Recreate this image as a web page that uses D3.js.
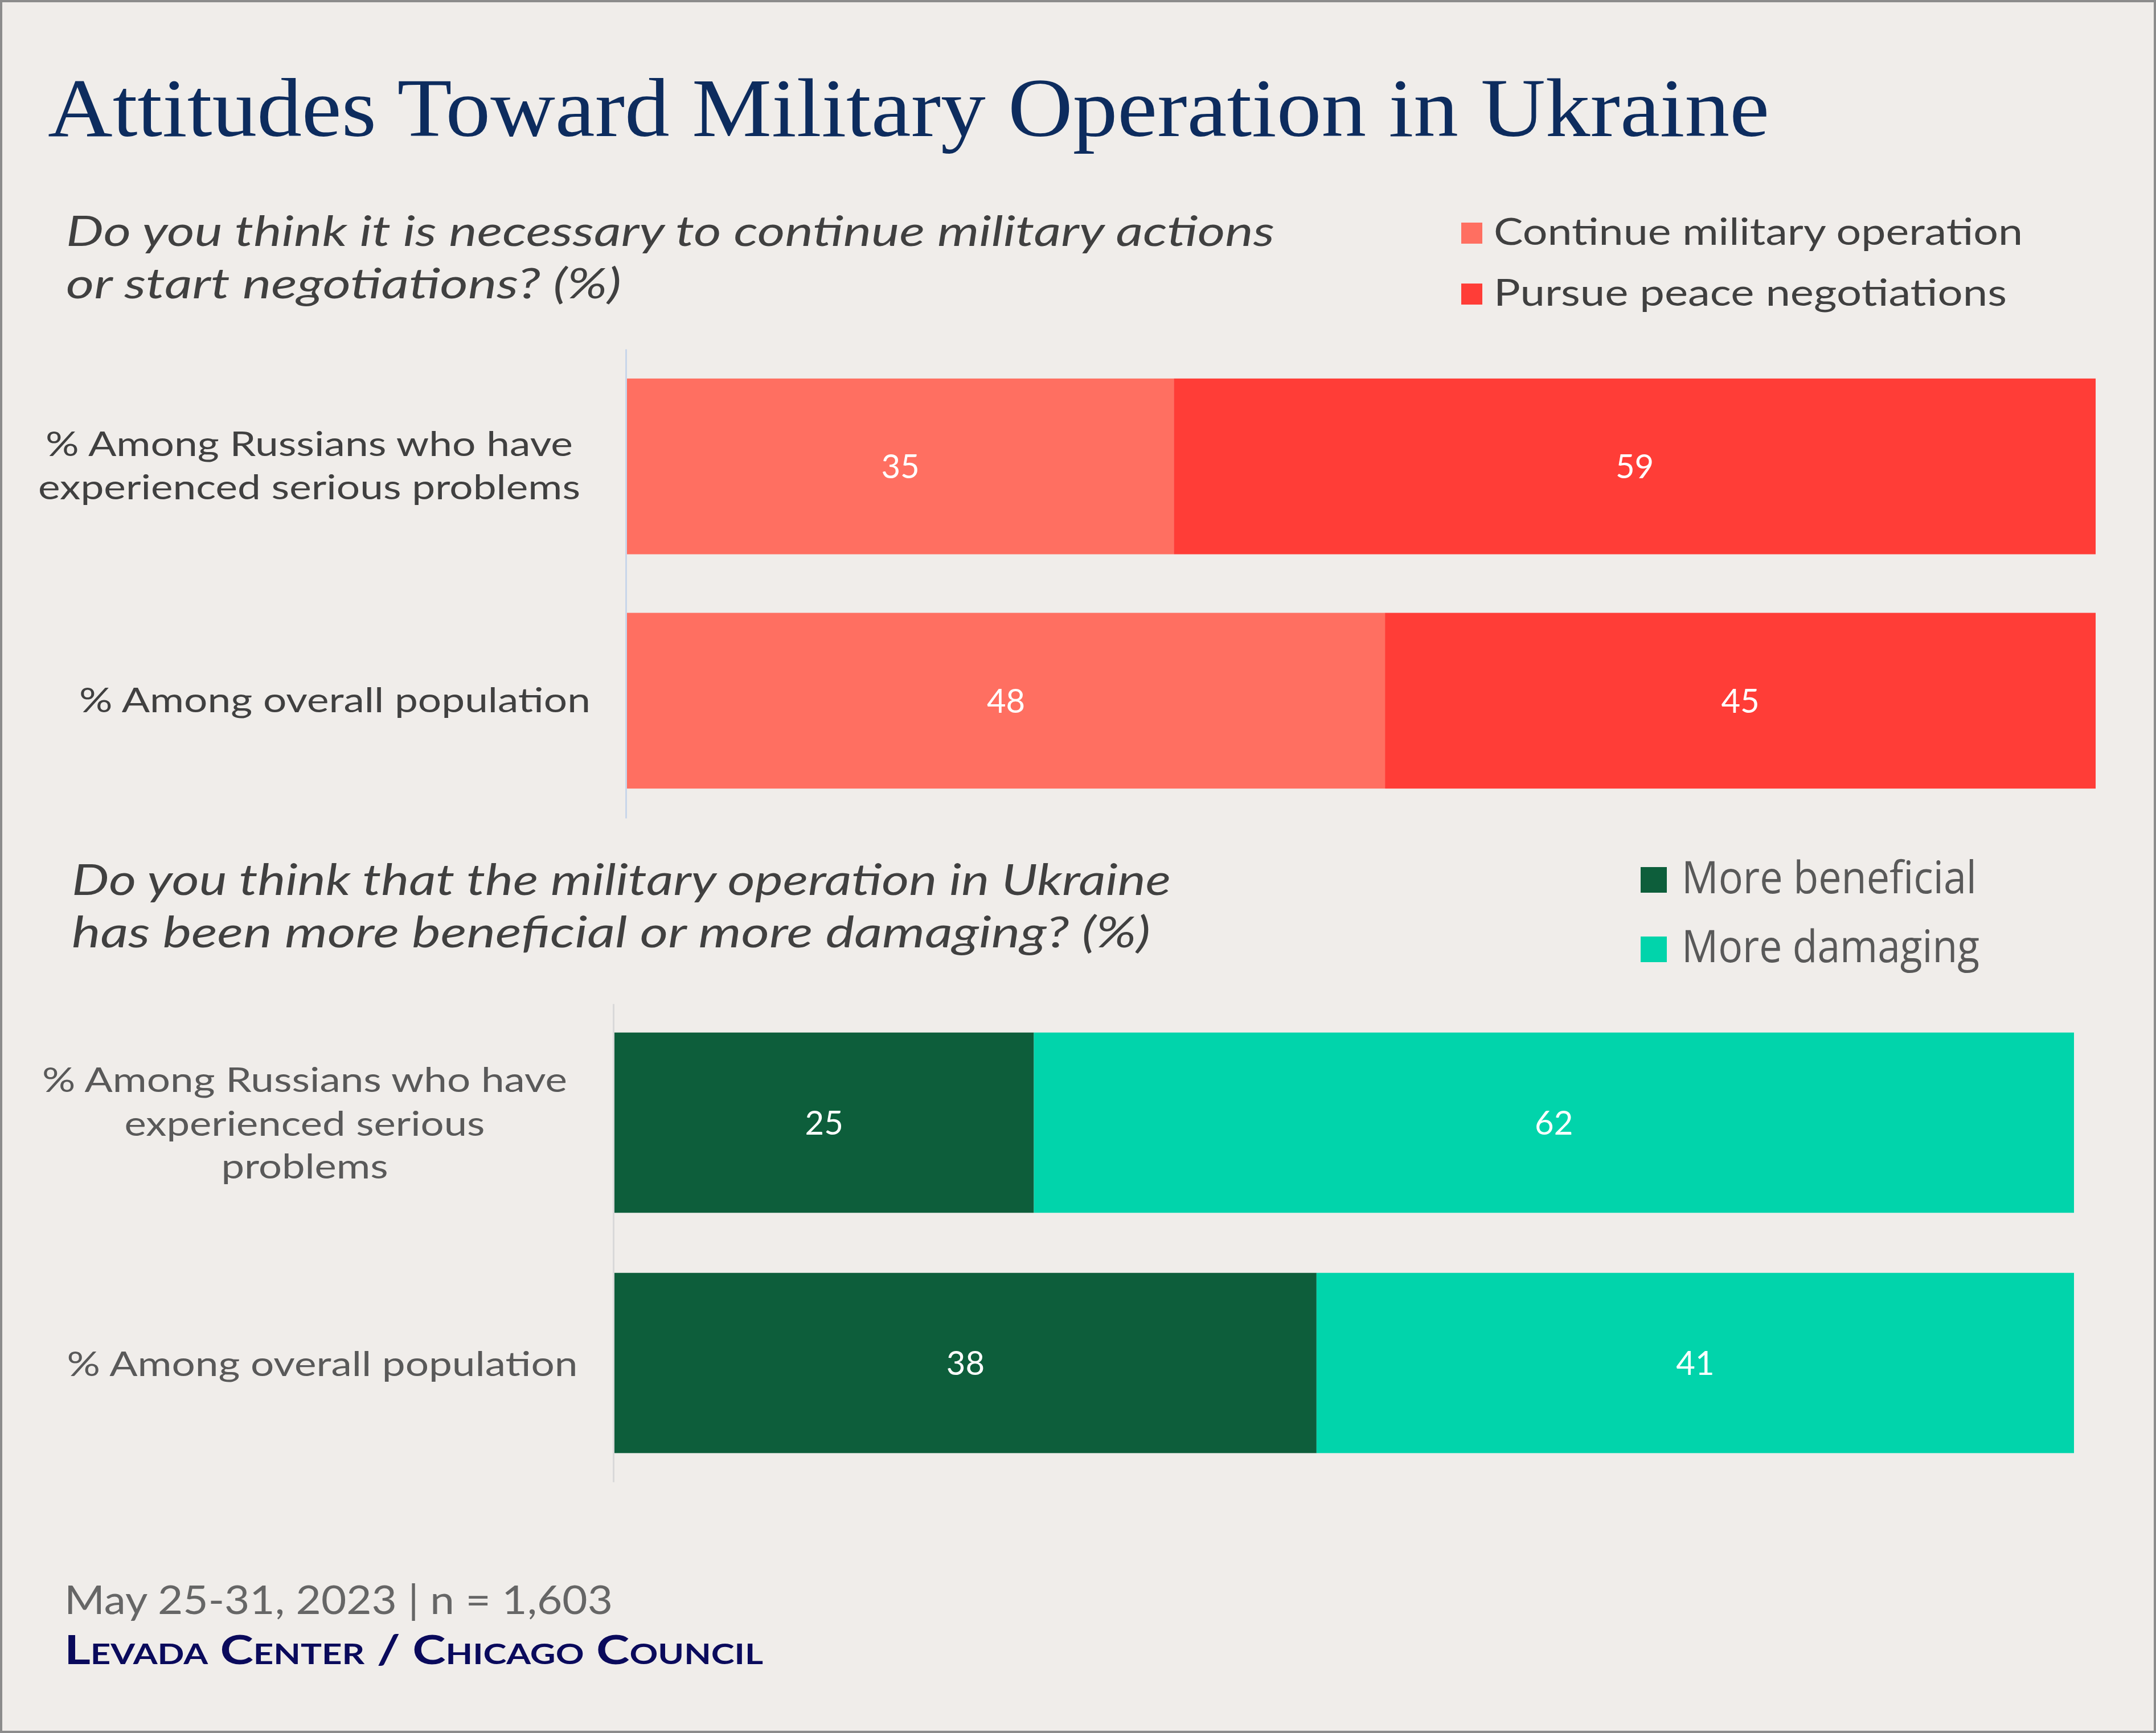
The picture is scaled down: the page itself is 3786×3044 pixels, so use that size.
<!DOCTYPE html>
<html>
<head>
<meta charset="utf-8">
<script src="https://cdn.jsdelivr.net/npm/d3@7"></script>
<style>
  html, body { margin: 0; padding: 0; background: #F0EDEA; }
  svg { display: block; }
</style>
</head>
<body>
<script>
// ---------- DATA ----------
const titleText = "Attitudes Toward Military Operation in Ukraine";

const q1Question = ["Do you think it is necessary to continue military actions", "or start negotiations? (%)"];
const q1Categories = ["Experienced problems", "Overall population"];
const q1LabelLines = [["% Among Russians who have", "experienced serious problems"], ["% Among overall population"]];
const q1Series = ["Continue military operation", "Pursue peace negotiations"];
const q1Continue = [35, 48];
const q1Negotiate = [59, 45];

const q2Question = ["Do you think that the military operation in Ukraine", "has been more beneficial or more damaging? (%)"];
const q2Categories = ["Experienced problems", "Overall population"];
const q2LabelLines = [["% Among Russians who have", "experienced serious", "problems"], ["% Among overall population"]];
const q2Series = ["More beneficial", "More damaging"];
const q2Beneficial = [25, 38];
const q2Damaging = [62, 41];

const footerNote = "May 25-31, 2023 | n = 1,603";
const footerSource = "Levada Center / Chicago Council";

// ---------- STYLE ----------
const W = 3786, H = 3044;
const BG = "#F0EDEA";
const q1Colors = ["#FF6F61", "#FF3D37"];
const q2Colors = ["#0D5E3B", "#01D4AB"];
const SANS = "Lato, 'Open Sans', 'Noto Sans', sans-serif";
const SANS2 = "'Open Sans', 'Noto Sans', sans-serif";

const svg = d3.select("body").append("svg").attr("width", W).attr("height", H);
svg.append("rect").attr("x", 0).attr("y", 0).attr("width", W).attr("height", H).attr("fill", BG);

function fitText(sel, len) {
  sel.attr("textLength", len).attr("lengthAdjust", "spacingAndGlyphs");
  return sel;
}

// Title
fitText(svg.append("text").attr("x", 84).attr("y", 239)
  .attr("font-family", "'Liberation Serif', 'DejaVu Serif', serif")
  .attr("font-size", 146).attr("fill", "#0D2C5E").text(titleText), 3023);

function drawPanel(cfg) {
  const g = svg.append("g");
  // question
  cfg.question.forEach((line, i) => {
    fitText(g.append("text").attr("x", cfg.qx).attr("y", cfg.qBase[i])
      .attr("font-family", SANS).attr("font-style", "italic").attr("font-weight", 400)
      .attr("font-size", cfg.qSize).attr("fill", "#404040").text(line), cfg.qWidths[i]);
  });
  // legend
  cfg.series.forEach((s, i) => {
    g.append("rect").attr("x", cfg.legX).attr("y", cfg.legSqY[i])
      .attr("width", cfg.legSq[0]).attr("height", cfg.legSq[1]).attr("fill", cfg.colors[i]);
    fitText(g.append("text").attr("x", cfg.legTX).attr("y", cfg.legBase[i])
      .attr("font-family", cfg.legFont).attr("font-size", cfg.legSize).attr("fill", cfg.legColor).text(s), cfg.legWidths[i]);
  });

  const rows = cfg.categories.map((c, i) => {
    const o = { cat: c };
    cfg.series.forEach((s, j) => o[s] = cfg.values[j][i]);
    return o;
  });
  const stack = d3.stack().keys(cfg.series).offset(d3.stackOffsetExpand);
  const layers = stack(rows);

  const x = d3.scaleLinear().domain([0, 1]).range(cfg.xRange);
  const y = d3.scaleBand().domain(cfg.categories).range(cfg.yRange)
    .paddingInner(0.25).paddingOuter(cfg.padOuter);

  // bars
  layers.forEach((layer, j) => {
    g.append("g").selectAll("rect").data(layer).join("rect")
      .attr("x", d => x(d[0]))
      .attr("y", d => y(d.data.cat))
      .attr("width", d => x(d[1]) - x(d[0]))
      .attr("height", y.bandwidth())
      .attr("fill", cfg.colors[j]);
    g.append("g").selectAll("text").data(layer).join("text")
      .attr("x", d => (x(d[0]) + x(d[1])) / 2)
      .attr("y", d => y(d.data.cat) + y.bandwidth() / 2 + 21)
      .attr("text-anchor", "middle")
      .attr("font-family", SANS).attr("font-size", 58).attr("fill", "#FFFFFF")
      .text(d => d.data[cfg.series[j]]);
  });

  // axis line (no ticks)
  const axis = d3.axisLeft(y).tickSize(0).tickFormat("");
  const ag = g.append("g").attr("transform", `translate(${cfg.axisX},0)`).call(axis);
  ag.select(".domain").attr("stroke", cfg.axisColor).attr("stroke-width", 3);

  // category labels
  cfg.labelLines.forEach((lines, i) => {
    lines.forEach((line, k) => {
      fitText(g.append("text").attr("x", cfg.labelCX[i]).attr("y", cfg.labelBase[i][k])
        .attr("text-anchor", "middle")
        .attr("font-family", SANS).attr("font-size", cfg.labelSize).attr("fill", cfg.labelColor)
        .text(line), cfg.labelWidths[i][k]);
    });
  });
}

drawPanel({
  question: q1Question, qx: 116, qBase: [432, 524], qSize: 74, qWidths: [2122, 975],
  series: q1Series, colors: q1Colors,
  legX: 2566, legSqY: [391, 498], legSq: [37, 37], legTX: 2623, legBase: [430, 537],
  legFont: SANS, legSize: 66, legColor: "#404040", legWidths: [929, 901],
  categories: q1Categories, values: [q1Continue, q1Negotiate],
  xRange: [1101, 3680], yRange: [613, 1437], padOuter: 0.126,
  axisX: 1099, axisColor: "#C9D6EA",
  labelLines: q1LabelLines, labelCX: [543, 588],
  labelBase: [[801, 877], [1251]], labelWidths: [[926, 952], [898]],
  labelSize: 60, labelColor: "#404040"
});

drawPanel({
  question: q2Question, qx: 126, qBase: [1572, 1664], qSize: 75, qWidths: [1930, 1894],
  series: q2Series, colors: q2Colors,
  legX: 2881, legSqY: [1523, 1645], legSq: [46, 45], legTX: 2953, legBase: [1569, 1690],
  legFont: SANS2, legSize: 79, legColor: "#595959", legWidths: [518, 523],
  categories: q2Categories, values: [q2Beneficial, q2Damaging],
  xRange: [1079, 3642], yRange: [1763, 2603], padOuter: 0.12,
  axisX: 1077, axisColor: "#D9D9D9",
  labelLines: q2LabelLines, labelCX: [535, 566],
  labelBase: [[1918, 1995, 2070], [2417]], labelWidths: [[922, 633, 293], [897]],
  labelSize: 60, labelColor: "#595959"
});

// Footer
fitText(svg.append("text").attr("x", 113).attr("y", 2835)
  .attr("font-family", SANS).attr("font-size", 70).attr("fill", "#666666").text(footerNote), 963);
fitText(svg.append("text").attr("x", 113).attr("y", 2923)
  .attr("font-family", SANS).attr("font-weight", 700).attr("font-variant", "small-caps")
  .style("font-variant", "small-caps")
  .attr("font-size", 70).attr("fill", "#0A0A5C").text(footerSource), 1227);

// Border
svg.append("rect").attr("x", 2).attr("y", 2).attr("width", W - 4).attr("height", H - 4)
  .attr("fill", "none").attr("stroke", "#8C8C8C").attr("stroke-width", 4);
</script>
</body>
</html>
